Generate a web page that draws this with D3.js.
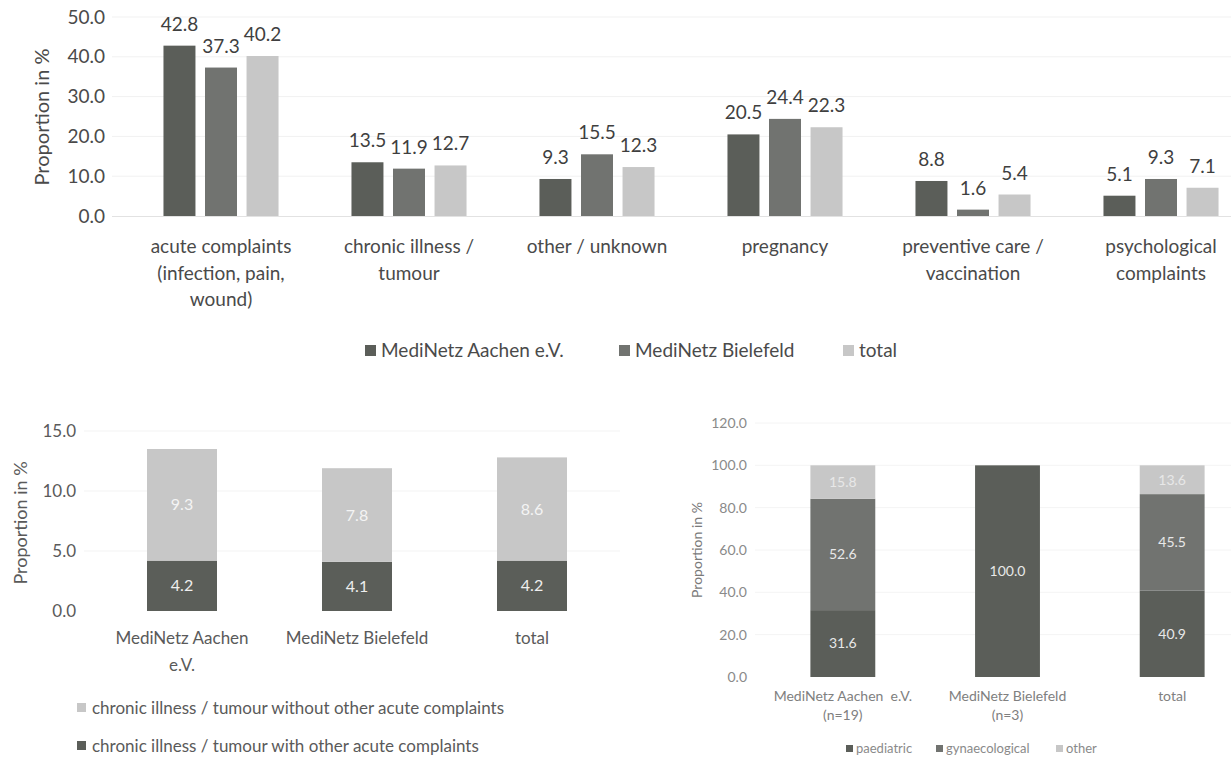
<!DOCTYPE html>
<html><head><meta charset="utf-8">
<script src="https://cdn.jsdelivr.net/npm/d3@7"></script>
<style>
html,body{margin:0;padding:0;background:#fff;}
svg{display:block;font-family:Lato,"Open Sans",sans-serif;}
</style></head>
<body>
<svg id="chart" width="1231" height="760"></svg>
<script>
// ---------- DATA ----------
const topCategories = [
  ["acute complaints","(infection, pain,","wound)"],
  ["chronic illness /","tumour"],
  ["other / unknown"],
  ["pregnancy"],
  ["preventive care /","vaccination"],
  ["psychological","complaints"]
];
const topSeries = ["MediNetz Aachen e.V.","MediNetz Bielefeld","total"];
const topAachen    = [42.8, 13.5, 9.3, 20.5, 8.8, 5.1];
const topBielefeld = [37.3, 11.9, 15.5, 24.4, 1.6, 9.3];
const topTotal     = [40.2, 12.7, 12.3, 22.3, 5.4, 7.1];
const topTicks = [0,10,20,30,40,50];

const blCategories = [["MediNetz Aachen","e.V."],["MediNetz Bielefeld"],["total"]];
const blSeries = ["chronic illness / tumour with other acute complaints","chronic illness / tumour without other acute complaints"];
const blWith    = [4.2, 4.1, 4.2];
const blWithout = [9.3, 7.8, 8.6];
const blTicks = [0,5,10,15];

const brCategories = [["MediNetz Aachen  e.V.","(n=19)"],["MediNetz Bielefeld","(n=3)"],["total"]];
const brSeries = ["paediatric","gynaecological","other"];
const brPaediatric     = [31.6, 100.0, 40.9];
const brGynaecological = [52.6, 0, 45.5];
const brOther          = [15.8, 0, 13.6];
const brTicks = [0,20,40,60,80,100,120];

// ---------- STYLE ----------
const C1 = "#5b5e59", C2 = "#717370", C3 = "#c7c7c7";
const svg = d3.select("#chart");
const fmt = d3.format(".1f");

// ========== TOP CHART ==========
(function(){
  const g = svg.append("g");
  const x0 = d3.scaleBand().domain(d3.range(topCategories.length)).range([127,1255]).paddingInner(0.388).paddingOuter(0.194);
  const x1 = d3.scaleBand().domain(d3.range(3)).range([0, x0.bandwidth()]).paddingInner(0.23);
  const y = d3.scaleLinear().domain([0,50]).range([216,17]);
  const cols = [C1,C2,C3];
  const seriesVals = [topAachen, topBielefeld, topTotal];

  // grid
  g.append("g").selectAll("line").data(topTicks.slice(1)).join("line")
    .attr("x1",112).attr("x2",1231).attr("y1",d=>y(d)).attr("y2",d=>y(d))
    .attr("stroke","#f1f1f1").attr("stroke-width",1);
  g.append("line").attr("x1",112).attr("x2",1231).attr("y1",y(0)+0.5).attr("y2",y(0)+0.5).attr("stroke","#e2e2e2");

  // y axis
  const ya = d3.axisLeft(y).tickValues(topTicks).tickFormat(fmt).tickSize(0).tickPadding(0);
  const yg = g.append("g").attr("transform","translate(105,0)").call(ya);
  yg.select(".domain").remove();
  yg.selectAll("text").attr("font-size",19).attr("fill","#4a4a4a").attr("font-family","Lato");
  g.append("text").attr("transform","translate(49,117) rotate(-90)").attr("text-anchor","middle")
    .attr("font-size",20).attr("fill","#4a4a4a").text("Proportion in %");

  // bars
  topCategories.forEach((c,i)=>{
    const gg = g.append("g").attr("transform",`translate(${x0(i)},0)`);
    seriesVals.forEach((vals,s)=>{
      gg.append("rect").attr("x",x1(s)).attr("width",x1.bandwidth())
        .attr("y",y(vals[i])).attr("height",y(0)-y(vals[i])).attr("fill",cols[s]);
      gg.append("text").attr("x",x1(s)+x1.bandwidth()/2).attr("y",y(vals[i])-15)
        .attr("text-anchor","middle").attr("font-size",19).attr("fill","#3f3f3f").text(fmt(vals[i]));
    });
    const t = g.append("text").attr("text-anchor","middle").attr("font-size",19).attr("fill","#4a4a4a");
    c.forEach((ln,k)=>{
      t.append("tspan").attr("x",x0(i)+x0.bandwidth()/2).attr("y",253+k*26.5).text(ln);
    });
  });

  // legend
  const lx = [365, 619, 843];
  topSeries.forEach((s,i)=>{
    g.append("rect").attr("x",lx[i]).attr("y",345).attr("width",11).attr("height",11).attr("fill",cols[i]);
    g.append("text").attr("x",lx[i]+16).attr("y",357).attr("font-size",19).attr("fill","#4a4a4a").text(s);
  });
})();

// ========== BOTTOM LEFT ==========
(function(){
  const g = svg.append("g");
  const x = d3.scaleBand().domain(d3.range(blCategories.length)).range([94.5,619.5]).paddingInner(0.6).paddingOuter(0.3);
  const y = d3.scaleLinear().domain([0,15]).range([611,431]);
  const stack = d3.stack().keys([0,1]).value((d,k)=>d[k]);
  const rows = blWith.map((v,i)=>[v, blWithout[i]]);
  const layers = stack(rows);
  const cols = [C1, C3];

  g.append("g").selectAll("line").data(blTicks.slice(1)).join("line")
    .attr("x1",84).attr("x2",620).attr("y1",d=>y(d)).attr("y2",d=>y(d))
    .attr("stroke","#f3f3f3");

  const ya = d3.axisLeft(y).tickValues(blTicks).tickFormat(fmt).tickSize(0).tickPadding(0);
  const yg = g.append("g").attr("transform","translate(76,0)").call(ya);
  yg.select(".domain").remove();
  yg.selectAll("text").attr("font-size",17).attr("fill","#5a5a5a").attr("font-family","Lato");
  g.append("text").attr("transform","translate(27,523) rotate(-90)").attr("text-anchor","middle")
    .attr("font-size",18).attr("fill","#5a5a5a").text("Proportion in %");

  layers.forEach((layer,li)=>{
    layer.forEach((d,i)=>{
      g.append("rect").attr("x",x(i)).attr("width",x.bandwidth())
        .attr("y",y(d[1])).attr("height",y(d[0])-y(d[1])).attr("fill",cols[li]);
      g.append("text").attr("x",x(i)+x.bandwidth()/2).attr("y",(y(d[0])+y(d[1]))/2).attr("dy","0.35em")
        .attr("text-anchor","middle").attr("font-size",16).attr("fill",li===0?"#eeeeee":"#f4f4f4")
        .text(fmt(d[1]-d[0]));
    });
  });

  blCategories.forEach((c,i)=>{
    const t = g.append("text").attr("text-anchor","middle").attr("font-size",17).attr("fill","#5a5a5a");
    c.forEach((ln,k)=>t.append("tspan").attr("x",x(i)+x.bandwidth()/2).attr("y",644+k*27).text(ln));
  });

  // legend (reversed order: without on top)
  const legendItems = [[blSeries[1], C3, 708],[blSeries[0], C1, 746]];
  legendItems.forEach(([s,c,yy])=>{
    g.append("rect").attr("x",77).attr("y",yy-5).attr("width",9).attr("height",9).attr("fill",c);
    g.append("text").attr("x",92).attr("y",yy+6).attr("font-size",17).attr("fill","#5a5a5a").text(s);
  });
})();

// ========== BOTTOM RIGHT ==========
(function(){
  const g = svg.append("g");
  const x = d3.scaleBand().domain(d3.range(brCategories.length)).range([760.5,1254.5]).paddingInner(0.606).paddingOuter(0.303);
  const y = d3.scaleLinear().domain([0,120]).range([677,423]);
  const rows = brPaediatric.map((v,i)=>[v, brGynaecological[i], brOther[i]]);
  const layers = d3.stack().keys([0,1,2]).value((d,k)=>d[k])(rows);
  const cols = [C1, C2, C3];

  g.append("g").selectAll("line").data(brTicks.slice(1)).join("line")
    .attr("x1",755).attr("x2",1231).attr("y1",d=>y(d)).attr("y2",d=>y(d))
    .attr("stroke","#f4f4f4");

  const ya = d3.axisLeft(y).tickValues(brTicks).tickFormat(fmt).tickSize(0).tickPadding(0);
  const yg = g.append("g").attr("transform","translate(747,0)").call(ya);
  yg.select(".domain").remove();
  yg.selectAll("text").attr("font-size",14).attr("fill","#8a8a8a").attr("font-family","Lato");
  g.append("text").attr("transform","translate(702,550) rotate(-90)").attr("text-anchor","middle")
    .attr("font-size",14).attr("fill","#7a7a7a").text("Proportion in %");

  layers.forEach((layer,li)=>{
    layer.forEach((d,i)=>{
      const v = d[1]-d[0];
      if (v<=0) return;
      g.append("rect").attr("x",x(i)).attr("width",x.bandwidth())
        .attr("y",y(d[1])).attr("height",y(d[0])-y(d[1])).attr("fill",cols[li]);
      g.append("text").attr("x",x(i)+x.bandwidth()/2).attr("y",(y(d[0])+y(d[1]))/2).attr("dy","0.35em")
        .attr("text-anchor","middle").attr("font-size",14).attr("fill","#e8e8e8").text(fmt(v));
    });
  });

  brCategories.forEach((c,i)=>{
    const t = g.append("text").attr("text-anchor","middle").attr("font-size",14).attr("fill","#808080");
    c.forEach((ln,k)=>t.append("tspan").attr("x",x(i)+x.bandwidth()/2).attr("y",701+k*19).attr("xml:space","preserve").text(ln));
  });

  const lx = [846, 936, 1056];
  brSeries.forEach((s,i)=>{
    g.append("rect").attr("x",lx[i]).attr("y",745).attr("width",7).attr("height",7).attr("fill",cols[i]);
    g.append("text").attr("x",lx[i]+10).attr("y",753).attr("font-size",13).attr("fill","#8a8a8a").text(s);
  });
})();
</script>
</body></html>
